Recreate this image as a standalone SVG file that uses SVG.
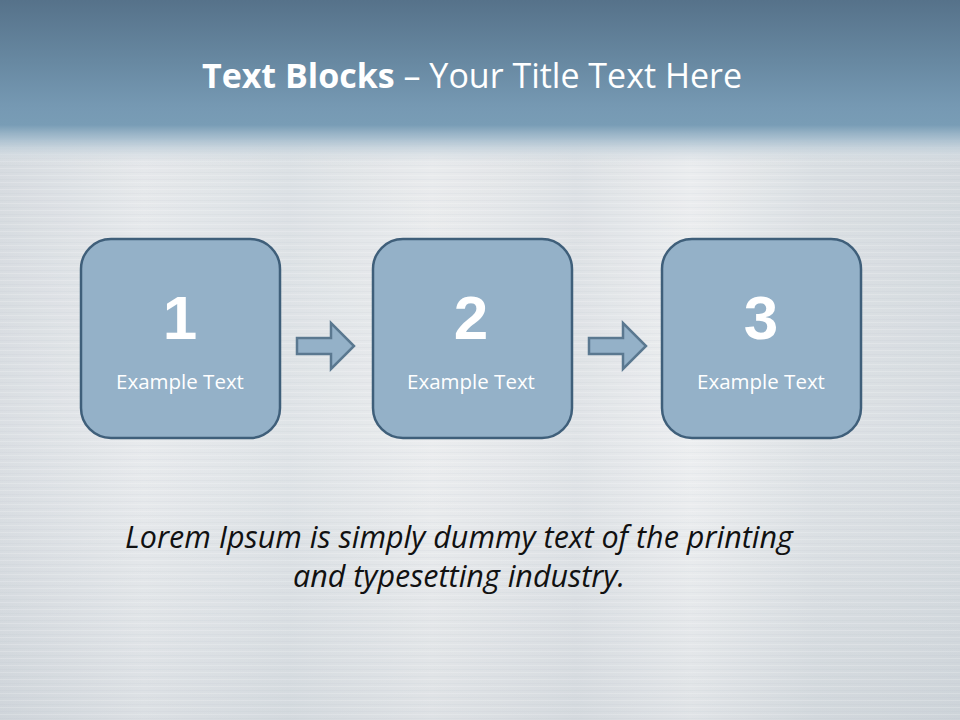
<svg xmlns="http://www.w3.org/2000/svg" width="960" height="720" viewBox="0 0 960 720">
<defs>
<linearGradient id="hdr" x1="0" y1="0" x2="0" y2="1">
<stop offset="0" stop-color="#56728a"/>
<stop offset="0.5" stop-color="#6889a2"/>
<stop offset="0.85" stop-color="#7699b3"/>
<stop offset="1" stop-color="#799db6"/>
</linearGradient>
<linearGradient id="fade" x1="0" y1="0" x2="0" y2="1">
<stop offset="0" stop-color="#799db6" stop-opacity="1"/>
<stop offset="0.35" stop-color="#a4bccd" stop-opacity="0.9"/>
<stop offset="0.7" stop-color="#cdd8e0" stop-opacity="0.6"/>
<stop offset="1" stop-color="#dde2e6" stop-opacity="0"/>
</linearGradient>
<linearGradient id="bg" x1="0" y1="0" x2="1" y2="0">
<stop offset="0" stop-color="#d4d9de"/>
<stop offset="0.15" stop-color="#e4e7ea"/>
<stop offset="0.3" stop-color="#dadfe3"/>
<stop offset="0.45" stop-color="#e8eaec"/>
<stop offset="0.6" stop-color="#dbdfe3"/>
<stop offset="0.72" stop-color="#eaecee"/>
<stop offset="0.85" stop-color="#d8dde1"/>
<stop offset="1" stop-color="#d1d7dc"/>
</linearGradient>
<linearGradient id="vshade" x1="0" y1="0" x2="0" y2="1">
<stop offset="0" stop-color="#ffffff" stop-opacity="0"/>
<stop offset="0.6" stop-color="#ffffff" stop-opacity="0.15"/>
<stop offset="1" stop-color="#c0c8cf" stop-opacity="0.25"/>
</linearGradient>
<pattern id="brush" width="960" height="7" patternUnits="userSpaceOnUse">
<rect x="0" y="0" width="960" height="1" fill="#ffffff" opacity="0.18"/>
<rect x="0" y="4" width="960" height="1" fill="#b8c0c8" opacity="0.1"/>
</pattern>
<style>
.box{fill:#94b1c8;stroke:#3f5f7a;stroke-width:2.5}
.num{font-family:"Liberation Sans",Arial,sans-serif;font-weight:bold;font-size:62px;fill:#ffffff;text-anchor:middle}
.lbl{font-family:"Open Sans","Noto Sans",sans-serif;font-size:20.5px;fill:#ffffff;text-anchor:middle}
.arr{fill:#94b1c8;stroke:#5a7890;stroke-width:2.5;stroke-linejoin:miter}
.body{font-family:"Open Sans","Noto Sans",sans-serif;font-style:italic;font-size:30.5px;fill:#111111;text-anchor:middle}
</style>
</defs>
<rect x="0" y="0" width="960" height="720" fill="url(#bg)"/>
<rect x="0" y="0" width="960" height="720" fill="url(#vshade)"/>
<rect x="0" y="130" width="960" height="590" fill="url(#brush)"/>
<rect x="0" y="0" width="960" height="126" fill="url(#hdr)"/>
<rect x="0" y="125" width="960" height="40" fill="url(#fade)"/>
<text x="472" y="88" text-anchor="middle" font-family="'Open Sans','Noto Sans',sans-serif" font-size="34" fill="#ffffff"><tspan font-weight="bold">Text Blocks</tspan> – Your Title Text Here</text>
<g id="connectors">
<polygon class="arr" points="297,338 331,338 331,323 354,346 331,369 331,354 297,354"/>
<polygon class="arr" points="589,338 623,338 623,323 646,346 623,369 623,354 589,354"/>
</g>
<g id="node1">
<rect class="box" x="81" y="239" width="199" height="199" rx="30"/>
<text class="num" x="180" y="339">1</text>
<text class="lbl" x="180" y="389">Example Text</text>
</g>
<g id="node2">
<rect class="box" x="373" y="239" width="199" height="199" rx="30"/>
<text class="num" x="471" y="339">2</text>
<text class="lbl" x="471" y="389">Example Text</text>
</g>
<g id="node3">
<rect class="box" x="662" y="239" width="199" height="199" rx="30"/>
<text class="num" x="761" y="339">3</text>
<text class="lbl" x="761" y="389">Example Text</text>
</g>
<text class="body" x="459" y="548">Lorem Ipsum is simply dummy text of the printing</text>
<text class="body" x="459" y="587">and typesetting industry.</text>
</svg>
